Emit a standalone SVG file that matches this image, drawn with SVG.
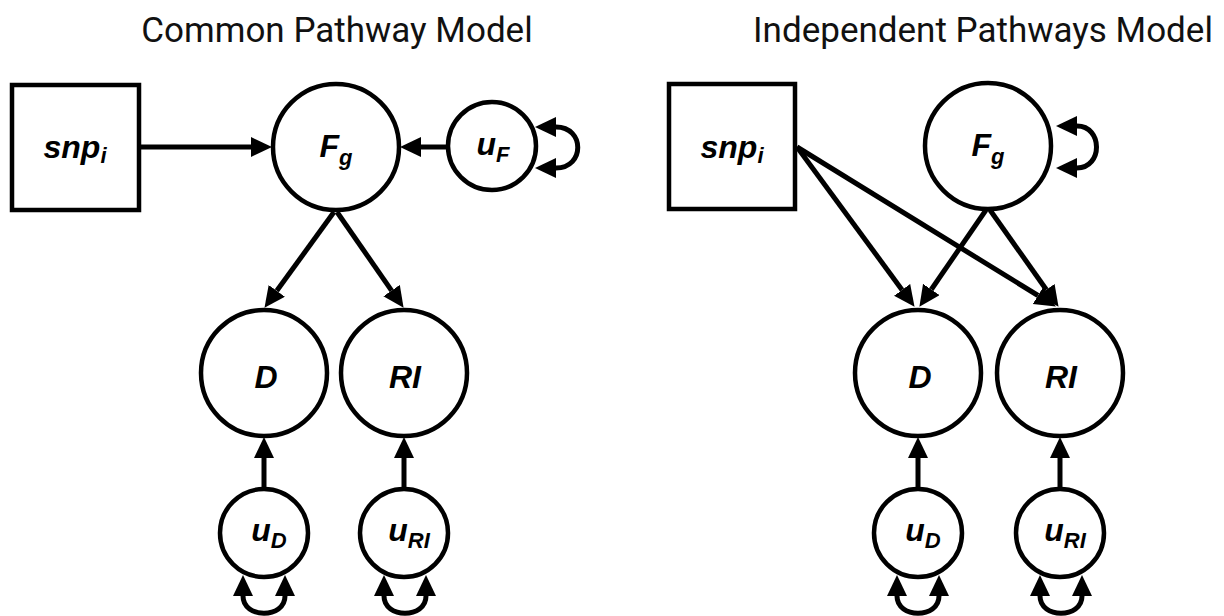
<svg xmlns="http://www.w3.org/2000/svg" width="1224" height="616" viewBox="0 0 1224 616">
<defs>
<style>
.title{font-family:Roboto,"Liberation Sans",sans-serif;font-size:35px;fill:#111;text-anchor:middle}
.lbl{font-family:"Liberation Sans",Arial,sans-serif;font-size:32px;font-weight:bold;font-style:italic;fill:#000;text-anchor:middle}
.sub{font-size:22px}
.node{fill:#fff;stroke:#000;stroke-width:4.5}
.edge{fill:none;stroke:#000;stroke-width:5}
</style>
<marker id="ah" markerUnits="userSpaceOnUse" markerWidth="22" markerHeight="22" refX="0" refY="10" orient="auto-start-reverse" viewBox="0 0 22 22">
<path d="M0,0 L21,10 L0,20 z" fill="#000"/>
</marker>
</defs>
<rect width="1224" height="616" fill="#fff"/>
<text class="title" x="337" y="42">Common Pathway Model</text>
<text class="title" x="983" y="42">Independent Pathways Model</text>

<g id="connectors">
<!-- left -->
<path class="edge" d="M139,147 L251,147" marker-end="url(#ah)"/>
<path class="edge" d="M449,147 L421,147" marker-end="url(#ah)"/>
<path class="edge" d="M334,212 L276.8,290.8" marker-end="url(#ah)"/>
<path class="edge" d="M337,212 L391.6,290.6" marker-end="url(#ah)"/>
<path class="edge" d="M264,489 L264,458" marker-end="url(#ah)"/>
<path class="edge" d="M404,489 L404,458" marker-end="url(#ah)"/>
<path class="edge" d="M556,127 C585,127 585,168 556,168" marker-start="url(#ah)" marker-end="url(#ah)"/>
<path class="edge" d="M243,596 C243,619 285,619 285,596" marker-start="url(#ah)" marker-end="url(#ah)"/>
<path class="edge" d="M384,596 C384,619 426,619 426,596" marker-start="url(#ah)" marker-end="url(#ah)"/>
<!-- right -->
<path class="edge" d="M797,147 L902.1,289.9" marker-end="url(#ah)"/>
<path class="edge" d="M797,147 L1038,295.5" marker-end="url(#ah)"/>
<path class="edge" d="M986,210 L931.3,289.5" marker-end="url(#ah)"/>
<path class="edge" d="M990,210 L1046.4,289.7" marker-end="url(#ah)"/>
<path class="edge" d="M918,489 L918,458" marker-end="url(#ah)"/>
<path class="edge" d="M1060,489 L1060,458" marker-end="url(#ah)"/>
<path class="edge" d="M1077,126 C1103,126 1103,168 1077,168" marker-start="url(#ah)" marker-end="url(#ah)"/>
<path class="edge" d="M897,596 C897,619 939,619 939,596" marker-start="url(#ah)" marker-end="url(#ah)"/>
<path class="edge" d="M1040,596 C1040,619 1082,619 1082,596" marker-start="url(#ah)" marker-end="url(#ah)"/>
</g>

<g id="L_snp"><rect class="node" x="12" y="85" width="127" height="125"/><text class="lbl" x="75" y="158">snp<tspan class="sub" dy="5">i</tspan></text></g>
<g id="L_Fg"><circle class="node" cx="336" cy="147" r="63"/><text class="lbl" x="336" y="157">F<tspan class="sub" dy="8">g</tspan></text></g>
<g id="L_uF"><circle class="node" cx="492" cy="146" r="44"/><text class="lbl" x="493" y="155">u<tspan class="sub" dy="7">F</tspan></text></g>
<g id="L_D"><circle class="node" cx="264" cy="373" r="63"/><text class="lbl" x="266" y="388">D</text></g>
<g id="L_RI"><circle class="node" cx="404" cy="373" r="63"/><text class="lbl" x="405" y="388">RI</text></g>
<g id="L_uD"><circle class="node" cx="264" cy="533" r="44"/><text class="lbl" x="269" y="541">u<tspan class="sub" dy="7">D</tspan></text></g>
<g id="L_uRI"><circle class="node" cx="404" cy="533" r="44"/><text class="lbl" x="409" y="541">u<tspan class="sub" dy="7">RI</tspan></text></g>

<g id="R_snp"><rect class="node" x="669" y="84" width="126" height="125"/><text class="lbl" x="732" y="158">snp<tspan class="sub" dy="5">i</tspan></text></g>
<g id="R_Fg"><circle class="node" cx="988" cy="146" r="63"/><text class="lbl" x="988" y="156">F<tspan class="sub" dy="8">g</tspan></text></g>
<g id="R_D"><circle class="node" cx="918" cy="373" r="63"/><text class="lbl" x="920" y="388">D</text></g>
<g id="R_RI"><circle class="node" cx="1060" cy="373" r="63"/><text class="lbl" x="1061" y="388">RI</text></g>
<g id="R_uD"><circle class="node" cx="918" cy="533" r="44"/><text class="lbl" x="923" y="541">u<tspan class="sub" dy="7">D</tspan></text></g>
<g id="R_uRI"><circle class="node" cx="1060" cy="533" r="44"/><text class="lbl" x="1065" y="541">u<tspan class="sub" dy="7">RI</tspan></text></g>
</svg>
